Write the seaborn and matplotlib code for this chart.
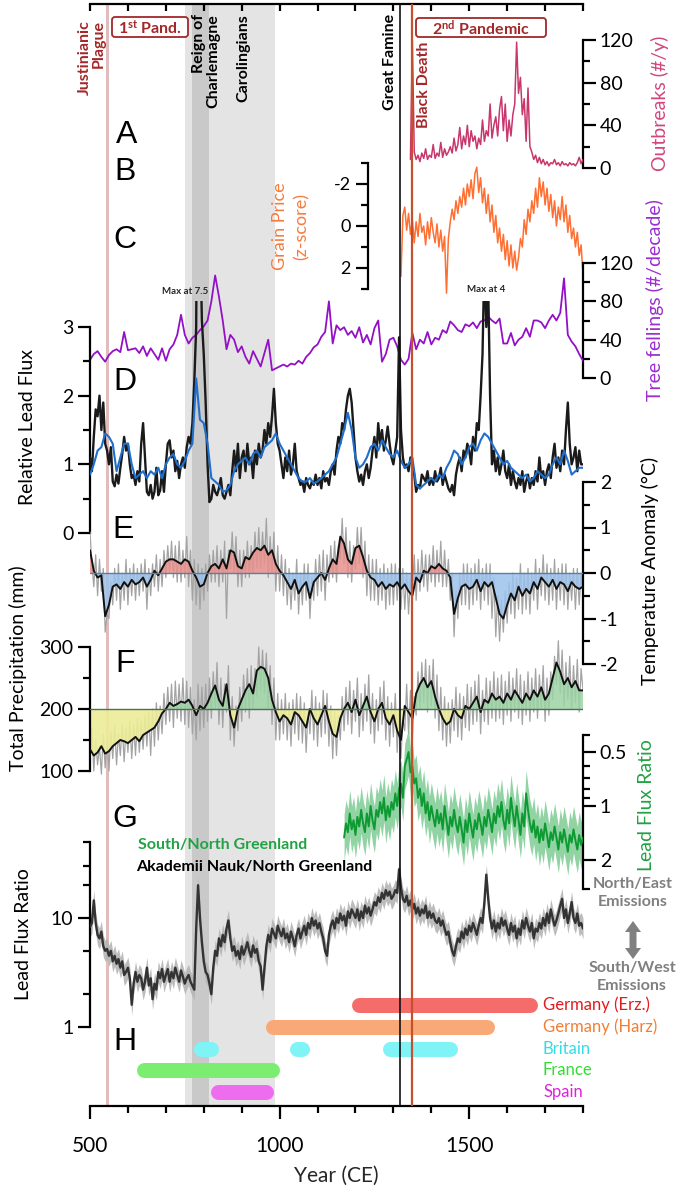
import numpy as np
import matplotlib
matplotlib.use("Agg")
import matplotlib.pyplot as plt
import seaborn as sns
from matplotlib.patches import FancyBboxPatch, Polygon, Rectangle
from matplotlib.transforms import IdentityTransform
from matplotlib.ticker import FixedLocator, NullFormatter, FuncFormatter

# ----------------------------------------------------------------- data
outbreak_years = np.arange(1345, 1801, 5)
outbreaks = [8, 120, 15, 8, 12, 6, 14, 9, 18, 8,
             12, 10, 22, 9, 14, 11, 24, 10, 18, 12,
             15, 20, 14, 28, 16, 22, 38, 18, 30, 22,
             40, 20, 35, 25, 30, 18, 28, 22, 45, 25,
             35, 30, 60, 28, 40, 48, 30, 55, 67, 35,
             60, 25, 45, 30, 50, 60, 118, 70, 85, 50,
             65, 25, 75, 20, 15, 8, 12, 5, 10, 4,
             8, 3, 6, 2, 5, 4, 8, 3, 5, 2,
             6, 3, 4, 2, 5, 3, 4, 2, 5, 10,
             4, 8]

grain_years = np.arange(1320, 1801, 5)
grain_price = [2.4, -0.5, -0.9, 0.2, -0.6, 0.4, -0.3, 0.8, -0.2, 0.5,
               -0.6, 0.3, 0.0, 0.9, -0.2, 0.6, -0.4, 0.3, 0.8, -0.1,
               1.0, 0.2, 1.2, 0.5, 3.2, 0.6, -0.2, -0.8, -0.3, -1.2,
               -0.6, -1.4, -0.9, -1.8, -1.0, -2.0, -1.4, -2.2, -1.3, -2.5,
               -2.8, -1.6, -2.3, -1.1, -1.8, -0.6, -1.5, -0.2, -1.0, 0.3,
               -0.5, 0.8, 0.1, 1.2, 0.4, 1.6, 0.7, 1.9, 0.9, 2.0,
               1.2, 2.1, 1.5, 0.6, 1.0, -0.3, 0.4, -0.8, -0.2, -1.2,
               -0.6, -1.8, -0.9, -2.3, -1.4, -2.1, -1.0, -1.8, -0.7, -1.5,
               -0.4, -1.2, 0.0, -0.9, -0.3, -1.4, -0.2, -1.0, 0.3, -0.5,
               0.6, 0.1, 1.0, 0.3, 1.4, 0.9, 2.3]

decade_years = np.arange(500, 1801, 10)
tree_fellings = [19, 25, 28, 22, 17, 24, 28, 30, 27, 48,
                 29, 30, 31, 26, 33, 23, 31, 25, 19, 31,
                 18, 30, 35, 45, 66, 45, 36, 42, 45, 50,
                 54, 60, 80, 107, 85, 60, 30, 45, 40, 27,
                 33, 22, 15, 28, 20, 12, 26, 40, 8, 10,
                 12, 14, 12, 15, 14, 18, 15, 22, 26, 32,
                 35, 43, 48, 80, 36, 55, 50, 53, 45, 49,
                 42, 53, 37, 45, 35, 52, 60, 17, 25, 40,
                 42, 33, 19, 14, 20, 47, 30, 40, 36, 48,
                 35, 42, 40, 50, 47, 59, 55, 50, 48, 56,
                 54, 58, 52, 59, 60, 64, 60, 57, 62, 36,
                 36, 47, 34, 40, 43, 52, 43, 60, 60, 58,
                 52, 60, 66, 60, 68, 104, 45, 38, 33, 25,
                 18]

years5 = np.arange(500, 1801, 5)
lead_flux_black = [1.1, 0.9, 1.4, 1.8, 1.7, 2.0, 1.5, 1.9, 1.3, 1.2, 1.0, 1.25, 0.75, 0.68, 0.85, 0.72, 0.95, 1.15, 1.4, 1.2,
                   1.3, 1.0, 0.8, 0.85, 0.7, 0.9, 0.75, 1.3, 1.6, 1.1, 0.6, 0.55, 0.7, 0.5, 0.6, 0.95, 0.55, 0.62, 0.9, 0.6,
                   1.0, 1.3, 1.35, 1.1, 1.2, 0.9, 1.05, 0.8, 1.0, 1.1, 0.95, 1.25, 1.4, 1.3, 1.6, 2.2, 3.0, 7.5, 4.5, 3.1,
                   2.6, 1.9, 1.0, 0.45, 0.5, 0.7, 0.6, 0.55, 0.65, 0.8, 0.55, 0.5, 0.6, 0.7, 0.55, 0.9, 1.2, 0.9, 1.3, 0.8,
                   1.1, 1.2, 0.9, 1.3, 1.0, 1.1, 0.8, 1.2, 1.0, 1.3, 1.1, 1.2, 1.5, 1.3, 1.6, 1.4, 1.7, 2.1, 1.6, 1.3,
                   1.2, 1.0, 0.8, 1.1, 0.9, 1.2, 0.85, 1.0, 1.3, 0.9, 0.8, 0.7, 0.75, 0.6, 0.8, 0.7, 0.65, 0.75, 0.7, 0.85,
                   0.7, 0.8, 0.65, 0.9, 0.75, 0.8, 0.7, 0.9, 1.0, 0.85, 1.2, 1.4, 1.3, 1.6, 1.5, 1.8, 2.0, 2.1, 1.9, 1.5,
                   1.1, 0.9, 0.75, 0.85, 0.7, 0.9, 1.0, 0.8, 0.95, 1.2, 1.4, 1.1, 1.6, 1.3, 1.5, 1.2, 1.35, 1.55, 1.3, 1.1,
                   1.0, 1.2, 1.4, 2.85, 1.5, 1.1, 0.95, 1.0, 0.9, 1.1, 1.0, 0.85, 0.6, 0.7, 0.65, 0.85, 0.8, 0.75, 0.9, 0.7,
                   0.8, 0.7, 0.9, 0.75, 0.8, 0.95, 0.7, 0.85, 0.75, 0.65, 0.6, 0.7, 0.55, 0.85, 1.0, 1.1, 0.9, 1.2, 1.1, 1.3,
                   1.2, 1.0, 1.4, 1.2, 1.6, 1.5, 2.0, 2.6, 4.0, 3.0, 3.6, 2.0, 1.0, 1.2, 0.9, 1.1, 0.85, 1.0, 1.2, 0.9,
                   0.8, 1.0, 0.7, 0.9, 0.75, 0.65, 0.8, 0.7, 0.9, 0.6, 0.75, 0.85, 0.65, 0.8, 0.7, 0.9, 0.75, 1.1, 0.8, 0.9,
                   0.7, 0.9, 1.0, 0.8, 1.1, 1.3, 0.95, 1.1, 0.9, 1.2, 1.0, 1.5, 1.9, 1.3, 1.0, 1.1, 1.25, 0.9, 1.2, 1.0,
                   1.0]
lead_flux_blue = [0.85, 1.0, 1.2, 1.25, 1.45, 1.4, 1.3, 0.9, 1.1, 1.3,
                  1.3, 1.0, 0.8, 0.85, 0.9, 0.8, 0.9, 0.85, 0.95, 0.8,
                  1.0, 1.1, 1.15, 1.0, 0.95, 1.05, 1.2, 1.3, 2.25, 1.65,
                  1.6, 1.3, 0.8, 0.75, 0.7, 0.6, 0.62, 0.7, 0.9, 1.0,
                  1.05, 1.1, 1.0, 1.15, 1.2, 1.1, 1.25, 1.3, 1.35, 1.45,
                  1.3, 1.2, 1.1, 1.0, 0.9, 0.8, 0.75, 0.75, 0.8, 0.72,
                  0.75, 0.8, 0.85, 0.9, 1.0, 1.1, 1.3, 1.5, 1.75, 1.5,
                  1.1, 0.95, 1.0, 1.1, 1.25, 1.3, 1.2, 1.35, 1.25, 1.15,
                  1.1, 1.2, 1.05, 0.95, 1.0, 1.1, 0.7, 0.65, 0.7, 0.75,
                  0.8, 0.75, 0.85, 0.8, 0.95, 1.05, 1.2, 1.15, 1.0, 1.1,
                  1.25, 1.3, 1.2, 1.35, 1.45, 1.4, 1.3, 1.2, 1.1, 1.0,
                  1.05, 0.95, 0.9, 0.85, 0.8, 0.85, 0.75, 0.8, 0.9, 0.85,
                  0.8, 0.85, 1.0, 1.1, 1.0, 1.2, 1.05, 0.85, 0.9, 0.95,
                  0.95]

temp_annual = [0.9, 0.2, -0.3, 0.4, -0.5, 0.3, -0.4, 0.1, -1.3, -0.9, -1.0, -0.2, -0.7, 0.1, -0.6, 0.2, -0.8, 0.0, -0.6, 0.3,
               -0.7, 0.1, -0.5, 0.2, -0.6, 0.1, -0.5, 0.2, -0.4, 0.3, -0.8, 0.1, -0.5, 0.2, -0.3, 0.4, -0.4, 0.3, -0.3, 0.5,
               -0.1, 0.6, 0.0, 0.7, -0.1, 0.6, -0.2, 0.7, -0.2, 0.5, -0.1, 0.8, -0.3, 0.5, -0.6, 0.3, -0.7, 0.2, -0.8, 0.1,
               -0.6, 0.2, -0.4, 0.4, -0.2, 0.5, -0.2, 0.6, -0.3, 0.5, -0.2, 0.7, -1.0, 0.5, 0.1, 0.9, 0.0, 0.8, -0.3, 0.5,
               -0.3, 0.5, -0.1, 0.7, -0.1, 0.6, 0.0, 0.9, 0.1, 1.0, 0.1, 0.9, 0.2, 1.2, -0.1, 0.8, 0.0, 0.9, -0.4, 0.6,
               -0.4, 0.4, -0.5, 0.3, -0.7, 0.1, -0.8, 0.0, -0.6, 0.3, -0.9, 0.0, -0.7, 0.2, -0.6, 0.2, -1.0, -0.1, -0.6, 0.3,
               -0.5, 0.4, -0.4, 0.5, -0.6, 0.4, -0.2, 0.6, -0.1, 0.7, -0.2, 0.6, 0.3, 1.2, 0.2, 1.0, -0.1, 0.7, -0.2, 0.6,
               0.1, 1.0, 0.2, 1.0, -0.1, 0.7, -0.5, 0.4, -0.6, 0.3, -0.6, 0.3, -0.7, 0.1, -0.6, 0.2, -0.8, 0.1, -0.7, 0.2,
               -0.7, 0.2, -0.6, 0.1, -0.8, 0.1, -0.8, 0.0, -0.9, -0.1, -0.5, 0.4, -0.6, 0.3, -0.4, 0.5, -0.3, 0.4, -0.4, 0.4,
               -0.2, 0.6, -0.3, 0.5, -0.2, 0.7, -0.3, 0.5, -0.3, 0.3, -0.6, 0.0, -1.4, -0.4, -1.0, 0.0, -0.7, 0.2, -0.7, 0.2,
               -0.8, 0.1, -0.7, 0.2, -0.6, 0.3, -0.8, 0.1, -0.6, 0.2, -0.7, 0.2, -1.0, -0.1, -1.4, -0.5, -1.5, -0.6, -1.3, -0.4,
               -1.1, -0.2, -0.9, 0.0, -1.0, -0.1, -0.8, 0.2, -0.9, 0.0, -0.8, 0.1, -0.9, 0.0, -0.6, 0.3, -0.8, 0.1, -0.5, 0.4,
               -0.6, 0.2, -0.7, 0.1, -0.6, 0.3, -0.8, 0.1, -0.6, 0.2, -0.7, 0.2, -0.8, 0.0, -0.6, 0.1, -0.8, 0.1, -0.7, 0.0,
               -0.4]
temp_smooth = [0.5, 0.05, -0.1, -0.05, -0.95, -0.7, -0.3, -0.25, -0.35, -0.2,
               -0.3, -0.15, -0.25, -0.2, -0.1, -0.3, -0.15, 0.05, -0.05, 0.1,
               0.25, 0.3, 0.3, 0.25, 0.2, 0.3, 0.25, 0.05, -0.1, -0.3,
               -0.25, 0.0, 0.15, 0.2, 0.1, 0.3, 0.1, 0.5, 0.45, 0.15,
               0.1, 0.35, 0.3, 0.45, 0.55, 0.5, 0.6, 0.4, 0.5, 0.2,
               0.05, -0.05, -0.2, -0.35, -0.15, -0.45, -0.3, -0.2, -0.55, -0.2,
               -0.1, 0.0, -0.15, 0.1, 0.3, 0.2, 0.8, 0.65, 0.3, 0.2,
               0.55, 0.6, 0.35, 0.05, -0.1, -0.15, -0.3, -0.2, -0.35, -0.25,
               -0.3, -0.2, -0.35, -0.25, -0.4, -0.5, -0.1, -0.2, 0.05, 0.0,
               0.15, 0.1, 0.2, 0.1, 0.05, -0.1, -0.9, -0.55, -0.3, -0.25,
               -0.35, -0.3, -0.15, -0.4, -0.2, -0.3, -0.2, -0.55, -0.9, -1.0,
               -0.7, -0.45, -0.6, -0.3, -0.5, -0.35, -0.45, -0.2, -0.35, -0.1,
               -0.2, -0.3, -0.15, -0.35, -0.2, -0.25, -0.4, -0.2, -0.3, -0.35,
               -0.3]

precip_annual = [120, 170, 100, 150, 110, 140, 95, 160, 105, 150, 100, 165, 120, 175, 110, 160, 125, 175, 115, 170,
                 130, 180, 120, 175, 125, 185, 130, 180, 135, 190, 140, 195, 125, 200, 140, 210, 150, 205, 160, 225,
                 175, 235, 180, 240, 170, 245, 185, 240, 180, 250, 175, 245, 170, 235, 160, 215, 150, 240, 165, 235,
                 170, 240, 180, 250, 185, 260, 200, 275, 175, 250, 170, 240, 195, 270, 150, 220, 140, 205, 165, 235,
                 180, 255, 195, 265, 185, 270, 200, 265, 220, 300, 230, 295, 225, 290, 200, 270, 175, 250, 150, 225,
                 150, 215, 160, 225, 150, 210, 140, 215, 160, 225, 150, 220, 145, 210, 130, 200, 160, 230, 150, 220,
                 140, 210, 155, 230, 160, 225, 140, 205, 120, 195, 125, 190, 150, 220, 165, 235, 175, 245, 160, 230,
                 180, 250, 155, 225, 165, 240, 180, 255, 160, 225, 145, 215, 165, 235, 175, 245, 150, 220, 140, 210,
                 155, 225, 130, 200, 120, 185, 165, 240, 160, 230, 150, 220, 190, 260, 200, 275, 210, 280, 195, 270,
                 205, 280, 185, 255, 165, 235, 150, 220, 140, 210, 145, 215, 165, 235, 155, 225, 150, 220, 170, 240,
                 165, 235, 175, 245, 180, 255, 160, 230, 180, 250, 175, 245, 185, 260, 180, 250, 185, 255, 175, 245,
                 190, 260, 180, 250, 195, 265, 185, 255, 175, 245, 190, 260, 180, 250, 195, 265, 185, 255, 200, 270,
                 180, 250, 190, 260, 215, 285, 240, 310, 225, 295, 205, 275, 215, 285, 200, 270, 210, 280, 195, 265,
                 230]
precip_smooth = [135, 125, 130, 140, 128, 132, 140, 145, 150, 148,
                 145, 150, 155, 148, 158, 162, 166, 170, 180, 193,
                 200, 210, 205, 208, 212, 210, 215, 205, 190, 205,
                 200, 210, 225, 238, 215, 205, 240, 190, 170, 200,
                 215, 230, 240, 225, 262, 268, 265, 250, 215, 195,
                 180, 190, 185, 175, 195, 190, 180, 170, 200, 185,
                 175, 190, 205, 180, 160, 155, 185, 200, 210, 195,
                 215, 190, 205, 220, 195, 180, 200, 210, 185, 175,
                 190, 165, 150, 205, 195, 185, 225, 240, 250, 235,
                 245, 220, 200, 185, 175, 180, 200, 190, 185, 205,
                 200, 210, 220, 195, 215, 210, 225, 215, 220, 210,
                 225, 215, 230, 220, 210, 225, 215, 230, 220, 235,
                 215, 225, 250, 275, 260, 240, 250, 235, 245, 230,
                 230]

ratio_sn_years = np.arange(1170, 1801, 5)
ratio_sn = [1.5, 1.25, 1.4, 1.1, 1.35, 1.2, 1.45, 1.15, 1.3, 1.05,
            1.25, 1.4, 1.1, 1.3, 1.0, 1.2, 1.35, 1.05, 1.15, 0.95,
            1.1, 0.9, 1.2, 1.0, 1.15, 0.95, 1.05, 0.85, 1.0, 0.8,
            0.75, 0.9, 0.6, 0.55, 0.5, 0.65, 0.6, 0.75, 0.7, 0.9,
            0.8, 1.0, 0.85, 1.1, 0.95, 1.2, 1.0, 1.15, 1.3, 1.05,
            1.25, 1.1, 1.35, 1.0, 1.2, 1.45, 1.15, 1.3, 1.05, 1.25,
            1.4, 1.15, 1.35, 1.6, 1.2, 1.4, 1.1, 1.3, 1.5, 1.2,
            1.35, 1.1, 1.25, 1.45, 1.15, 1.3, 1.05, 1.2, 1.4, 1.1,
            1.25, 1.0, 1.15, 0.95, 1.2, 1.35, 1.05, 1.25, 0.9, 1.1,
            1.3, 1.0, 1.2, 1.45, 1.1, 1.3, 0.85, 1.05, 1.25, 1.4,
            1.2, 1.5, 1.3, 1.6, 1.35, 1.55, 1.25, 1.45, 1.7, 1.4,
            1.55, 1.3, 1.5, 1.75, 1.4, 1.6, 1.35, 1.55, 1.8, 1.45,
            1.6, 1.35, 1.55, 1.75, 1.45, 1.65, 1.5]
ratio_sn_band = 1.35   # multiplicative uncertainty envelope

ratio_an = [8.3, 9, 14.5, 9, 7, 6.5, 7.5, 5.5, 5, 5.2, 4.5, 5, 4, 4.5, 3.8, 4.2, 3.5, 4, 3, 3.2,
            3.5, 2.8, 1.6, 2.5, 3.2, 2.6, 3, 2.8, 2.2, 2.6, 3.5, 2.4, 2.8, 1.8, 2.5, 2.2, 3.2, 2.8, 3.4, 2.6,
            3.0, 3.4, 2.6, 3.2, 2.8, 3.5, 3.0, 2.6, 3.3, 2.9, 2.5, 2.8, 3.0, 2.6, 2.4, 2.2, 8.0, 20, 10, 6.0,
            4.0, 3.2, 3.0, 2.5, 2.0, 3.5, 5.0, 4.5, 6.5, 5.5, 7.0, 6.0, 8.0, 9.5, 6.5, 5.0, 5.5, 4.5, 5.0, 4.2,
            5.5, 4.6, 5.2, 6.0, 5.0, 4.4, 5.6, 4.8, 5.2, 4.0, 3.6, 2.2, 3.5, 5.5, 7.0, 6.0, 8.0, 7.2, 6.5, 8.5,
            7.5, 6.8, 8.0, 6.5, 7.2, 6.0, 7.5, 6.5, 5.5, 7.0, 8.0, 6.5, 7.5, 8.5, 7.0, 9.0, 8.0, 10, 8.5, 9.5,
            8.0, 9.0, 7.5, 6.5, 5.0, 4.5, 7.0, 8.5, 9.5, 8.0, 10, 9.0, 11, 9.5, 10.5, 8.5, 11.5, 10, 12, 11,
            10, 12, 9.5, 11.5, 10, 13, 11, 12.5, 10.5, 12, 14, 13, 15.5, 14, 17, 15, 18, 16, 17.5, 15,
            16, 18, 17, 28, 19, 15, 14, 16, 13, 14.5, 12, 13.5, 11, 12.5, 10.5, 12, 11, 13, 10, 11.5,
            10, 11, 9.5, 9, 10, 8.5, 9.5, 8, 7, 7.5, 6, 5, 4.5, 5.5, 6.5, 6, 7.5, 6.5, 8, 7,
            8.5, 7.5, 9, 8, 7, 8.5, 10, 9, 14, 25, 15, 10, 8, 9.5, 7.5, 9, 8, 10, 8.5, 9.5,
            8, 7, 9, 7.5, 8.5, 6.5, 8, 7, 9.5, 8, 10, 8.5, 7.5, 9, 6.5, 8, 7.5, 9, 8, 10,
            8.5, 11, 9, 12, 10, 8.5, 9.5, 11, 13, 15, 10, 12, 9, 11, 14, 10, 9, 11, 8.5, 9,
            8]
ratio_an_band = 1.25

mining_regions = ["Germany (Erz.)", "Germany (Harz)", "Britain", "France", "Spain"]
mining_spans = [[(1190, 1680)], [(963, 1566)],
                [(773, 838), (1026, 1079), (1271, 1469)],
                [(623, 999)], [(817, 985)]]
mining_bar_colors = ["#f46d6b", "#f9a877", "#80f3f6", "#7bee72", "#ee6cee"]
mining_text_colors = ["#e41a1c", "#f07f35", "#33dde6", "#33dd33", "#dd22dd"]

carolingian_span = (751, 987)
charlemagne_span = (768, 814)
justinian_span = (541, 550)
great_famine_year = 1318
black_death_year = 1349

# ----------------------------------------------------------------- style
sns.set_theme(style="white")
plt.rcParams.update({
    "font.family": ["Lato", "DejaVu Sans"],
    "axes.unicode_minus": False,
    "mathtext.fontset": "custom",
    "mathtext.rm": "Lato",
    "mathtext.bf": "Lato:bold",
    "mathtext.it": "Lato:italic",
    "xtick.color": "black",
    "ytick.color": "black",
    "axes.edgecolor": "black",
})

W, H = 677, 1186
fig = plt.figure(figsize=(W / 100, H / 100), dpi=100)
fig.patch.set_facecolor("white")
XL, XR, YT, YB = 90, 583, 4, 1106
PX_PER_YEAR = (XR - XL) / 1300.0


def fx(x):
    return x / W


def fy(y):
    return 1 - y / H


def panel(a=None, b=None, log=False, z=1):
    ax = fig.add_axes([fx(XL), fy(YB), (XR - XL) / W, (YB - YT) / H], zorder=z)
    ax.patch.set_alpha(0)
    ax.set_xlim(500, 1800)
    for s in ax.spines.values():
        s.set_visible(False)
    ax.set_xticks([])
    ax.set_yticks([])
    ax.grid(False)
    ax.set_xlabel("")
    ax.set_ylabel("")
    if a is not None:
        (va, pa), (vb, pb) = a, b
        la, lb = (np.log10(va), np.log10(vb)) if log else (va, vb)
        s = (la - lb) / (pa - pb)
        lo = la + s * (YB - pa)
        hi = la + s * (YT - pa)
        if log:
            ax.set_yscale("log")
            lo, hi = 10 ** lo, 10 ** hi
        ax.set_ylim(lo, hi)
    return ax


def yaxis_style(ax, side, bounds, major, minor=(), size=13, color="black"):
    sp = ax.spines[side]
    sp.set_visible(True)
    sp.set_bounds(*bounds)
    sp.set_linewidth(1.6)
    sp.set_color("black")
    if side == "right":
        ax.yaxis.tick_right()
    else:
        ax.yaxis.tick_left()
    ax.yaxis.set_major_locator(FixedLocator(list(major)))
    ax.yaxis.set_minor_locator(FixedLocator(list(minor)))
    ax.yaxis.set_major_formatter(FuncFormatter(lambda v, p: f"{v:g}"))
    ax.yaxis.set_minor_formatter(NullFormatter())
    ax.tick_params(axis="y", which="major", length=9, width=1.6, direction="out",
                   labelsize=size, pad=3, labelcolor=color)
    ax.tick_params(axis="y", which="minor", length=5, width=1.6, direction="out")


def line(ax, x, y, color, lw, z=3):
    sns.lineplot(x=np.asarray(x), y=np.asarray(y, dtype=float), ax=ax, color=color,
                 linewidth=lw, estimator=None, zorder=z, legend=False)
    ax.set_xlabel("")
    ax.set_ylabel("")
    return ax.lines[-1]


# ----------------------------------------------------------------- background bands + bottom axis
ax_bg = panel((0, YB), (1, YT), z=0)
ax_bg.axvspan(*carolingian_span, color="#e4e4e4", lw=0)
ax_bg.axvspan(*charlemagne_span, color="#c9c9c9", lw=0)
ax_bg.axvspan(*justinian_span, color="#e0bcbd", lw=0)
ax_bg.spines["bottom"].set_visible(True)
ax_bg.spines["bottom"].set_linewidth(1.6)
ax_bg.set_xticks([500, 1000, 1500])
ax_bg.set_xticks(np.arange(500, 1801, 100), minor=True)
ax_bg.tick_params(axis="x", which="major", bottom=True, length=9.5, width=1.6,
                  direction="out", labelsize=15, pad=12)
ax_bg.tick_params(axis="x", which="minor", bottom=True, length=5, width=1.6, direction="out")
ax_bg.set_xlabel("Year (CE)", fontsize=15, labelpad=7)

# top frame line with inward ticks
ax_top = panel((0, YB), (1, YT), z=0.5)
ax_top.spines["top"].set_visible(True)
ax_top.spines["top"].set_linewidth(1.6)
ax_top.xaxis.set_ticks_position("top")
ax_top.set_xticks(np.arange(500, 1801, 100))
ax_top.tick_params(axis="x", which="major", top=True, bottom=False, labeltop=False,
                   labelbottom=False, length=5, width=1.6, direction="in")

# ----------------------------------------------------------------- A outbreaks
axA = panel((0, 168), (120, 40), z=2)
line(axA, outbreak_years, outbreaks, "#c8376c", 1.1)
yaxis_style(axA, "right", (0, 120), [0, 40, 80, 120], [20, 60, 100], size=14)

# ----------------------------------------------------------------- B grain price
axB = panel((-2, 184), (2, 268), z=2)
line(axB, grain_years, grain_price, "#ff6f31", 1.1)
yaxis_style(axB, "left", (-3, 3), [-2, 0, 2], [-3, -1, 1, 3], size=13)
axB.spines["left"].set_position(("data", 1232))

# ----------------------------------------------------------------- C tree fellings
axC = panel((0, 378), (120, 263), z=2)
line(axC, decade_years, tree_fellings, "#9410c6", 1.3)
yaxis_style(axC, "right", (0, 120), [0, 40, 80, 120], [20, 60, 100], size=14)

# ----------------------------------------------------------------- D relative lead flux
axD = panel((0, 533), (3, 327), z=2)
lb = line(axD, years5, lead_flux_black, "#1a1a1a", 1.7)
lb.set_clip_path(Rectangle((500, 0), 1300, 3.38, transform=axD.transData))
line(axD, decade_years, lead_flux_blue, "#1f6fcc", 1.5, z=4)
yaxis_style(axD, "left", (0, 3), [0, 1, 2, 3], [0.5, 1.5, 2.5], size=14)

# ----------------------------------------------------------------- E temperature
axE = panel((0, 573), (2, 482), z=2)
line(axE, years5, temp_annual, "#a3a3a3", 0.9, z=2)
ts = np.asarray(temp_smooth)
axE.fill_between(decade_years, ts, 0, where=ts >= 0, interpolate=True,
                 color="#e8918d", alpha=0.85, lw=0, zorder=2.5)
axE.fill_between(decade_years, ts, 0, where=ts <= 0, interpolate=True,
                 color="#9dc2ec", alpha=0.85, lw=0, zorder=2.5)
line(axE, decade_years, temp_smooth, "#111111", 1.4)
axE.axhline(0, color="#5d7f9e", lw=1.0, zorder=3.5)
yaxis_style(axE, "right", (-2, 2), [-2, -1, 0, 1, 2], [-1.5, -0.5, 0.5, 1.5], size=14)

# ----------------------------------------------------------------- F precipitation
axF = panel((200, 709), (300, 647), z=2)
line(axF, years5, precip_annual, "#a3a3a3", 0.9, z=2)
ps = np.asarray(precip_smooth, dtype=float)
axF.fill_between(decade_years, ps, 200, where=ps >= 200, interpolate=True,
                 color="#9dd3a5", alpha=0.85, lw=0, zorder=2.5)
axF.fill_between(decade_years, ps, 200, where=ps <= 200, interpolate=True,
                 color="#eded98", alpha=0.9, lw=0, zorder=2.5)
line(axF, decade_years, precip_smooth, "#111111", 1.4)
axF.axhline(200, color="#4f6e58", lw=1.0, zorder=3.5)
yaxis_style(axF, "left", (100, 300), [100, 200, 300], [150, 250], size=14)

# ----------------------------------------------------------------- G south/north ratio
axG = panel((0.5, 752), (2, 860), log=True, z=2)
sn = np.asarray(ratio_sn)
axG.fill_between(ratio_sn_years, sn / ratio_sn_band, sn * ratio_sn_band,
                 color="#6cc585", alpha=0.75, lw=0, zorder=2)
line(axG, ratio_sn_years, ratio_sn, "#0e9a33", 1.4)
yaxis_style(axG, "right", (0.4, 2.9), [0.5, 1, 2], [0.4, 0.6, 0.7, 0.8, 0.9, 2.9], size=14)

# ----------------------------------------------------------------- H akademii nauk ratio
axH = panel((1, 1027), (10, 918), log=True, z=2)
an = np.asarray(ratio_an)
axH.fill_between(years5, an / ratio_an_band, an * ratio_an_band,
                 color="#b5b5b5", alpha=0.9, lw=0, zorder=2)
line(axH, years5, ratio_an, "#333333", 1.7)
yaxis_style(axH, "left", (1, 50), [1, 10], [2, 5, 20, 30, 50], size=14)

# ----------------------------------------------------------------- mining bars
axM = panel((0, 1005), (4, 1092), z=2.5)
bar_px = 15
cap = (bar_px / 2) / PX_PER_YEAR
for i, (spans, col) in enumerate(zip(mining_spans, mining_bar_colors)):
    for s0, s1 in spans:
        axM.plot([s0 + cap, s1 - cap], [i, i], color=col, lw=bar_px * 0.72,
                 solid_capstyle="round", zorder=3)
for i, (name, col) in enumerate(zip(mining_regions, mining_text_colors)):
    fig.text(fx(543), fy(1005 + i * 21.75), name, color=col, fontsize=12,
             ha="left", va="center")

# ----------------------------------------------------------------- event lines on top
axEv = panel((0, YB), (1, YT), z=5)
axEv.axvline(great_famine_year, color="#111111", lw=1.2)
axEv.axvline(black_death_year, color="#c4512b", lw=1.6)

# ----------------------------------------------------------------- texts
DR = "#a3282a"
fig.text(fx(92), fy(20), "Justinianic\nPlague", rotation=90, ha="center", va="top",
         multialignment="right", color=DR, fontsize=11.5, fontweight="bold", linespacing=0.95)
fig.text(fx(206), fy(14), "Reign of\nCharlemagne", rotation=90, ha="center", va="top",
         multialignment="right", color="black", fontsize=11.5, fontweight="bold", linespacing=1.0)
fig.text(fx(243), fy(14), "Carolingians", rotation=90, ha="center", va="top",
         color="black", fontsize=11.5, fontweight="bold")
fig.text(fx(390), fy(14), "Great Famine", rotation=90, ha="center", va="top",
         color="black", fontsize=11.5, fontweight="bold")
fig.text(fx(424), fy(42), "Black Death", rotation=90, ha="center", va="top",
         color=DR, fontsize=11.5, fontweight="bold")

for (x0, x1, y0, y1, label) in [(112, 188, 17, 37, r"1$^{\mathbf{st}}$ Pand."),
                                (416, 546, 18, 37, r"2$^{\mathbf{nd}}$ Pandemic")]:
    box = FancyBboxPatch((x0, H - y1), x1 - x0, y1 - y0, boxstyle="round,pad=0,rounding_size=3",
                         transform=IdentityTransform(), fc="white", ec=DR, lw=1.3, zorder=6)
    fig.add_artist(box)
    fig.text(fx((x0 + x1) / 2), fy((y0 + y1) / 2 + 1), label, ha="center", va="center",
             color=DR, fontsize=11.5, fontweight="bold", zorder=7)

for letter, (x, y) in zip("ABCDEFGH", [(127, 135), (125, 172), (125, 240), (125, 382),
                                       (123, 530), (125, 664), (125, 819), (125, 1042)]):
    fig.text(fx(x), fy(y), letter, family="Liberation Sans", fontsize=23,
             ha="center", va="center", color="black", zorder=8)

fig.text(fx(185), fy(292), "Max at 7.5", fontsize=7, fontweight="bold", ha="center", va="center")
fig.text(fx(486), fy(289), "Max at 4", fontsize=7, fontweight="bold", ha="center", va="center")

fig.text(fx(138), fy(845), "South/North Greenland", color="#22a244", fontsize=11.5,
         fontweight="bold", ha="left", va="center")
fig.text(fx(136), fy(867), "Akademii Nauk/North Greenland", color="black", fontsize=11.5,
         fontweight="bold", ha="left", va="center")

GR = "#808080"
fig.text(fx(633), fy(893), "North/East\nEmissions", color=GR, fontsize=11.5, fontweight="bold",
         ha="center", va="center", linespacing=1.3)
fig.text(fx(632), fy(977), "South/West\nEmissions", color=GR, fontsize=11.5, fontweight="bold",
         ha="center", va="center", linespacing=1.3)

# double-headed arrow drawn as a polygon in pixel coordinates
ax_x, a_top, a_bot = 633, 921, 959
hw, sw, hl = 8, 3.5, 11
arrow_pts = [(ax_x, a_top), (ax_x + hw, a_top + hl), (ax_x + sw, a_top + hl),
             (ax_x + sw, a_bot - hl), (ax_x + hw, a_bot - hl), (ax_x, a_bot),
             (ax_x - hw, a_bot - hl), (ax_x - sw, a_bot - hl), (ax_x - sw, a_top + hl),
             (ax_x - hw, a_top + hl)]
arrow = Polygon([(px, H - py) for px, py in arrow_pts], closed=True,
                transform=IdentityTransform(), fc=GR, ec="none")
fig.add_artist(arrow)

# axis titles
fig.text(fx(660), fy(103), "Outbreaks (#/y)", rotation=90, color="#d2467c", fontsize=14,
         ha="center", va="center")
fig.text(fx(655), fy(300), "Tree fellings (#/decade)", rotation=90, color="#9a2fd1", fontsize=14,
         ha="center", va="center")
fig.text(fx(650), fy(571), "Temperature Anomaly (°C)", rotation=90, color="black", fontsize=14,
         ha="center", va="center")
fig.text(fx(646), fy(805), "Lead Flux Ratio", rotation=90, color="#22a244", fontsize=14,
         ha="center", va="center")
fig.text(fx(28), fy(427), "Relative Lead Flux", rotation=90, color="black", fontsize=14,
         ha="center", va="center")
fig.text(fx(18), fy(668), "Total Precipitation (mm)", rotation=90, color="black", fontsize=14,
         ha="center", va="center")
fig.text(fx(24), fy(934), "Lead Flux Ratio", rotation=90, color="black", fontsize=14,
         ha="center", va="center")
fig.text(fx(291), fy(226), "Grain Price\n(z-score)", rotation=90, color="#f77b3e", fontsize=13,
         ha="center", va="center", multialignment="center", linespacing=1.45)

fig.savefig("out.png", dpi=100, facecolor="white")
